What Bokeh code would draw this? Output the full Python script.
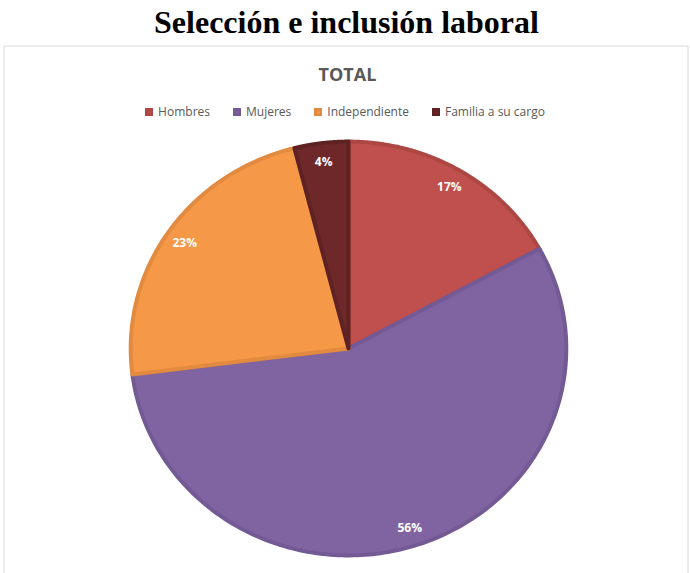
import numpy as np
from bokeh.plotting import figure
from bokeh.models import Range1d, Label, Legend, LegendItem, ColumnDataSource
from bokeh.embed import file_html
from bokeh.resources import INLINE

# ---- data ----
categories = ["Hombres", "Mujeres", "Independiente", "Familia a su cargo"]
values = [17, 56, 23, 4]
fill_colors = ["#C0504D", "#8064A2", "#F59847", "#6E2829"]
edge_colors = ["#AD4744", "#735A94", "#E28A3F", "#5E2223"]
chart_title = "Selección e inclusión laboral"
pie_title = "TOTAL"

# ---- geometry (pixels) ----
W, H = 690, 573
CX, CY = 348, 348
RX, RY = 220, 209


def px(x):
    return (x - CX) / RX


def py(y):
    return (CY - y) / RY


p = figure(width=W, height=H, output_backend="svg", toolbar_location=None,
           x_range=Range1d(-CX / RX, (W - CX) / RX),
           y_range=Range1d(-(H - CY) / RY, CY / RY),
           min_border=0, min_border_left=0, min_border_right=0,
           min_border_top=0, min_border_bottom=0)
p.axis.visible = False
p.grid.visible = False
p.outline_line_color = None
p.background_fill_color = "white"
p.border_fill_color = "white"

# outer chart box (bottom edge is clipped by the frame)
p.quad(left=[px(3.5)], right=[px(687.5)], top=[py(45.5)], bottom=[py(H + 20)],
       fill_color=None, line_color="#D9D9D9", line_width=1)

# ---- pie slices ----
total = float(sum(values))
fracs = [v / total for v in values]
cum = np.concatenate([[0.0], np.cumsum(fracs)])
xs, ys, lx, ly, labels = [], [], [], [], []
shrink = 0.99
for i, f in enumerate(fracs):
    a0, a1 = cum[i] * 2 * np.pi, cum[i + 1] * 2 * np.pi
    t = np.linspace(a0, a1, 200)
    xs.append(np.concatenate([[0.0], shrink * np.sin(t), [0.0]]))
    ys.append(np.concatenate([[0.0], shrink * np.cos(t), [0.0]]))
    am = (a0 + a1) / 2
    lx.append(0.9 * np.sin(am))
    ly.append(0.9 * np.cos(am))
    labels.append(f"{round(f * 100)}%")

src = ColumnDataSource(dict(xs=xs, ys=ys, fill=fill_colors, edge=edge_colors, cat=categories))
r = p.patches("xs", "ys", source=src, fill_color="fill", line_color="edge",
              line_width=4, line_join="round")

lsrc = ColumnDataSource(dict(x=lx, y=ly, t=labels))
p.text("x", "y", text="t", source=lsrc, text_color="white", text_font_size="12px",
       text_font_style="bold", text_align="center", text_baseline="middle",
       text_font={"value": "Open Sans"})

# ---- titles ----
p.add_layout(Label(x=px(346), y=py(21), text=chart_title, text_align="center",
                   text_baseline="alphabetic", text_font="Liberation Serif",
                   text_font_style="bold", text_font_size="32px", text_color="black"))
p.add_layout(Label(x=px(347), y=py(73), text=pie_title, text_align="center",
                   text_baseline="alphabetic", text_font="Open Sans",
                   text_font_style="bold", text_font_size="18px", text_color="#595959"))

# ---- legend ----
items = [LegendItem(label=c, renderers=[r], index=i) for i, c in enumerate(categories)]
legend = Legend(items=items, orientation="horizontal", location="top_center",
                margin=103, padding=0, spacing=23, label_standoff=5,
                glyph_width=8, glyph_height=8, label_height=14,
                label_text_font="Open Sans", label_text_font_size="12px",
                label_text_color="#595959", border_line_color=None,
                background_fill_alpha=0)
p.add_layout(legend, "center")

open("out.html", "w").write(file_html(p, INLINE))
